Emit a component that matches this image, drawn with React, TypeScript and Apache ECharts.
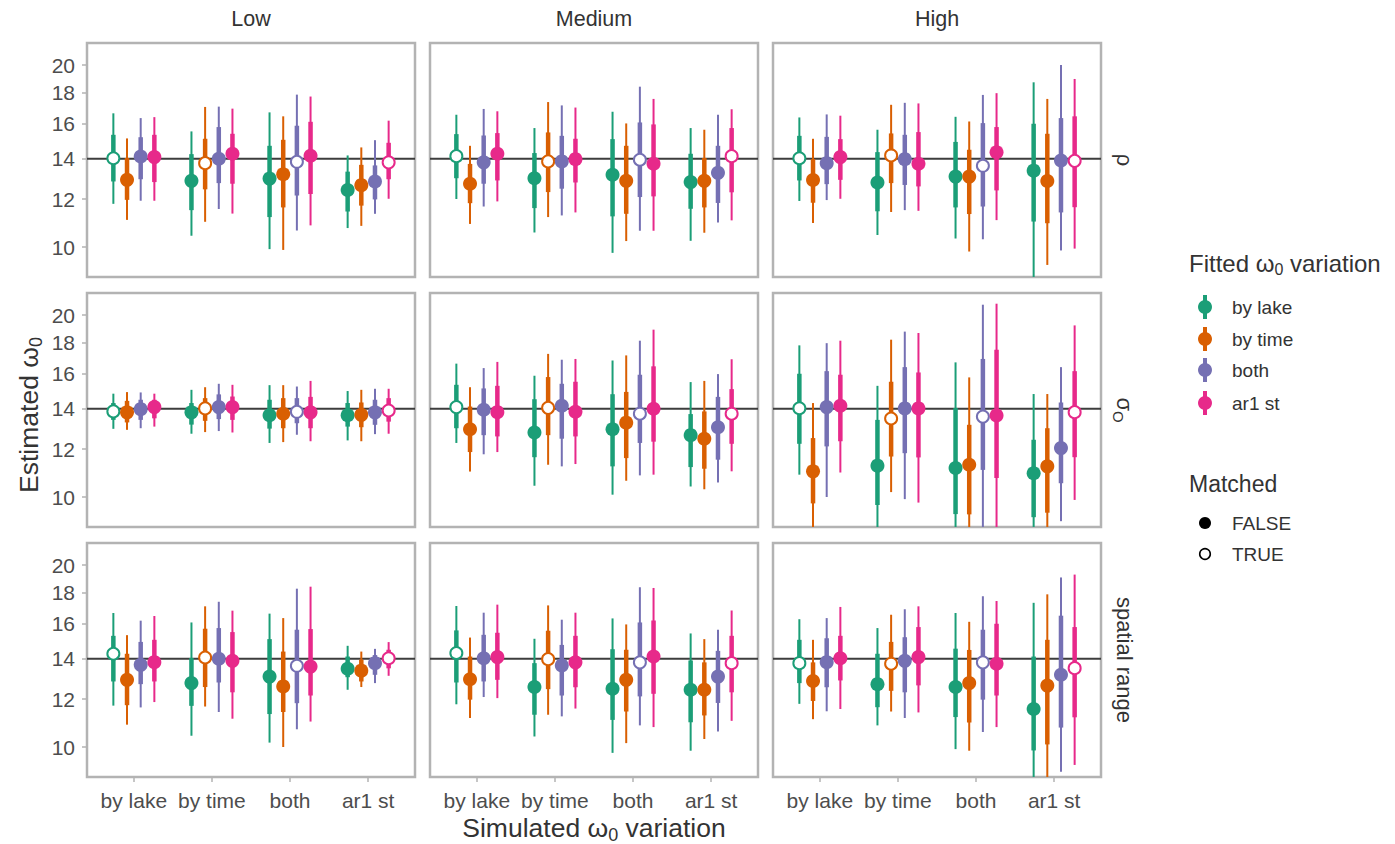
import React, { useEffect, useRef } from 'react';
import * as echarts from 'echarts';

// ---------- data ----------
const simulated = ['by lake', 'by time', 'both', 'ar1 st'];
const fitted = ['by lake', 'by time', 'both', 'ar1 st'];
const variationLevels = ['Low', 'Medium', 'High'];
const parameterLabels = ['{a|ρ}', '{a|σ}{s|O}', '{a|spatial range}'];
const fitColors = ['#1B9E77', '#D95F02', '#7570B3', '#E7298A'];
const yTicks = [10, 12, 14, 16, 18, 20];
const trueValue = 14;

// rows ordered: simulated (by lake, by time, both, ar1 st) x fitted (by lake, by time, both, ar1 st)
// columns: [estimate, lo95, lo66, hi66, hi95]
const rhoLow = [
  [14.03, 11.79, 12.84, 15.34, 16.65], [12.92, 11.09, 11.97, 14.04, 15.13], [14.12, 11.93, 12.95, 15.2, 16.35], [14.09, 11.93, 12.81, 15.34, 16.41],
  [12.87, 10.44, 11.51, 14.25, 15.54], [13.77, 11.01, 12.46, 15.11, 17.06], [14.0, 11.56, 12.76, 15.8, 17.08], [14.27, 11.36, 12.73, 15.4, 16.95],
  [12.98, 9.92, 11.21, 14.71, 16.71], [13.2, 9.89, 11.63, 15.05, 16.46], [13.84, 10.65, 12.17, 15.88, 17.88], [14.16, 10.86, 12.24, 16.12, 17.75],
  [12.43, 10.75, 11.45, 13.33, 14.18], [12.66, 10.84, 11.71, 13.68, 14.62], [12.84, 11.35, 11.99, 13.65, 15.03], [13.81, 12.02, 12.95, 14.88, 16.19],
];
const rhoMedium = [
  [14.14, 12.01, 13.0, 15.38, 16.56], [12.73, 10.92, 11.82, 13.73, 14.71], [13.81, 11.67, 12.73, 15.3, 16.93], [14.27, 11.9, 12.89, 15.44, 16.78],
  [13.0, 10.57, 11.6, 14.31, 15.74], [13.86, 11.21, 12.33, 15.48, 17.38], [13.86, 11.28, 12.49, 15.28, 17.16], [13.98, 11.41, 12.79, 15.11, 17.02],
  [13.17, 9.78, 11.24, 15.09, 16.75], [12.87, 10.23, 11.35, 14.71, 16.02], [13.95, 10.64, 12.1, 16.08, 18.43], [13.74, 10.64, 12.13, 15.96, 17.59],
  [12.81, 10.24, 11.57, 14.27, 15.74], [12.87, 10.56, 11.63, 14.04, 15.64], [13.27, 10.98, 11.83, 14.71, 16.56], [14.14, 11.07, 12.32, 15.74, 16.91],
];
const rhoHigh = [
  [14.03, 11.92, 12.89, 15.28, 16.39], [12.91, 10.96, 11.84, 13.98, 15.11], [13.77, 11.96, 12.71, 15.22, 16.58], [14.09, 12.02, 12.92, 15.09, 16.5],
  [12.79, 10.47, 11.46, 14.36, 15.64], [14.18, 11.43, 12.76, 15.42, 17.2], [13.98, 11.51, 12.67, 15.34, 17.33], [13.74, 11.48, 12.6, 15.5, 17.29],
  [13.08, 10.33, 11.63, 14.93, 16.43], [13.08, 9.83, 11.34, 14.49, 16.14], [13.63, 10.3, 11.67, 16.04, 17.86], [14.35, 11.08, 12.41, 15.8, 17.98],
  [13.38, 8.6, 11.02, 16.0, 18.74], [12.86, 9.34, 10.95, 15.4, 17.59], [13.91, 9.87, 11.41, 16.35, 20.02], [13.89, 9.94, 11.64, 16.46, 18.98],
];
const sigmaLow = [
  [13.86, 12.97, 13.42, 14.31, 14.83], [13.81, 12.92, 13.29, 14.43, 14.92], [13.98, 13.0, 13.42, 14.49, 14.9], [14.09, 13.08, 13.5, 14.49, 14.83],
  [13.81, 12.73, 13.18, 14.31, 15.05], [14.02, 12.81, 13.37, 14.58, 15.2], [14.09, 12.86, 13.46, 14.79, 15.4], [14.09, 12.79, 13.42, 14.67, 15.34],
  [13.66, 12.29, 12.98, 14.49, 15.32], [13.74, 12.33, 13.0, 14.58, 15.32], [13.84, 12.68, 13.25, 14.58, 15.24], [13.81, 12.37, 13.0, 14.65, 15.57],
  [13.66, 12.41, 13.08, 14.31, 14.98], [13.68, 12.37, 13.05, 14.34, 15.05], [13.81, 12.71, 13.17, 14.49, 15.11], [13.91, 12.73, 13.33, 14.58, 15.11],
];
const sigmaMedium = [
  [14.09, 12.29, 13.0, 15.34, 16.63], [12.95, 11.02, 11.87, 14.12, 15.2], [13.95, 11.77, 12.66, 15.13, 16.35], [13.82, 11.87, 12.6, 15.28, 16.74],
  [12.79, 10.44, 11.64, 14.52, 15.88], [14.05, 11.31, 12.66, 15.8, 17.26], [14.16, 11.24, 12.49, 15.4, 16.88], [13.84, 11.34, 12.6, 15.52, 16.93],
  [12.95, 10.09, 11.24, 14.8, 16.83], [13.28, 10.64, 11.6, 14.93, 17.16], [13.74, 10.86, 12.29, 15.94, 18.15], [14.0, 10.89, 12.35, 16.46, 18.93],
  [12.66, 10.41, 11.21, 13.72, 15.5], [12.49, 10.3, 11.14, 13.86, 15.57], [13.05, 10.57, 11.53, 14.65, 15.98], [13.74, 11.03, 12.25, 15.09, 16.91],
];
const sigmaHigh = [
  [14.03, 10.89, 12.25, 16.0, 17.83], [11.03, 8.5, 9.76, 12.52, 14.31], [14.09, 10.0, 12.13, 16.16, 17.98], [14.16, 10.98, 12.37, 15.94, 18.15],
  [11.27, 8.5, 9.7, 13.42, 15.28], [13.49, 10.19, 11.67, 15.52, 18.22], [14.02, 9.92, 11.82, 16.41, 18.79], [14.02, 9.79, 11.63, 16.08, 18.69],
  [11.17, 8.5, 9.37, 14.04, 16.71], [11.31, 8.5, 9.36, 13.17, 15.78], [13.59, 8.5, 11.09, 16.93, 20.82], [13.65, 8.5, 10.75, 17.54, 20.9],
  [10.95, 8.5, 9.26, 12.44, 14.81], [11.24, 8.5, 9.42, 13.0, 14.81], [12.05, 9.12, 10.54, 14.34, 16.41], [13.82, 9.89, 11.64, 16.16, 19.24],
];
const rangeLow = [
  [14.27, 11.71, 12.84, 15.28, 16.67], [12.92, 10.89, 11.73, 14.27, 15.32], [13.68, 11.63, 12.71, 14.93, 16.19], [13.82, 11.87, 12.84, 15.05, 16.48],
  [12.76, 10.44, 11.7, 14.04, 16.08], [14.07, 11.67, 12.57, 15.7, 17.1], [14.0, 11.43, 12.79, 15.74, 17.4], [13.89, 11.14, 12.32, 15.5, 16.82],
  [13.08, 10.17, 11.34, 15.09, 16.63], [12.6, 10.0, 11.43, 14.39, 16.35], [13.63, 10.7, 11.82, 15.64, 18.29], [13.59, 11.02, 12.17, 15.68, 18.43],
  [13.48, 12.44, 13.05, 14.12, 14.71], [13.38, 12.57, 12.84, 13.95, 14.39], [13.77, 12.76, 13.17, 14.2, 14.54], [14.03, 13.12, 13.5, 14.49, 14.92],
];
const rangeMedium = [
  [14.31, 11.77, 12.79, 15.6, 17.12], [12.95, 11.17, 11.98, 14.12, 15.18], [14.03, 12.1, 12.84, 15.34, 16.69], [14.09, 12.05, 12.92, 15.46, 17.21],
  [12.57, 10.41, 11.31, 13.77, 15.11], [13.98, 11.31, 12.47, 15.58, 17.16], [13.65, 11.24, 12.17, 14.76, 16.25], [13.81, 11.58, 12.56, 15.28, 16.69],
  [12.49, 9.78, 11.09, 14.52, 16.33], [12.92, 10.15, 11.45, 14.49, 15.96], [13.81, 10.86, 12.13, 16.08, 18.39], [14.12, 10.79, 12.25, 16.2, 18.34],
  [12.44, 9.86, 10.99, 13.91, 15.42], [12.44, 10.31, 11.28, 13.81, 15.09], [13.08, 10.61, 11.83, 14.43, 15.64], [13.77, 11.05, 12.32, 15.28, 16.83],
];
const rangeHigh = [
  [13.77, 11.79, 12.76, 15.05, 16.28], [12.86, 11.12, 11.92, 13.81, 15.05], [13.82, 11.46, 12.56, 15.14, 16.35], [14.03, 11.56, 12.89, 15.28, 17.06],
  [12.71, 10.86, 11.64, 14.27, 15.74], [13.74, 11.45, 12.39, 14.93, 16.56], [13.89, 11.17, 12.32, 15.2, 16.91], [14.09, 11.41, 12.65, 15.8, 17.1],
  [12.57, 9.92, 11.21, 14.55, 16.67], [12.76, 9.86, 10.98, 14.48, 16.12], [13.81, 10.59, 11.98, 15.64, 17.77], [13.74, 10.79, 12.17, 16.0, 17.45],
  [11.56, 8.5, 9.87, 14.12, 17.33], [12.64, 8.5, 10.1, 15.05, 17.9], [13.17, 9.1, 10.77, 16.5, 19.09], [13.51, 9.34, 11.2, 15.8, 19.3],
];

const panelData = [
  [rhoLow, rhoMedium, rhoHigh],
  [sigmaLow, sigmaMedium, sigmaHigh],
  [rangeLow, rangeMedium, rangeHigh],
];

// ---------- layout ----------
const FONT = '"Liberation Sans", Arial, Helvetica, sans-serif';
const colLeft = [87, 430, 773];
const rowTop = [43, 293, 543];
const panelW = 328;
const panelH = 234;
const yMin = 8.92;
const yMax = 21.77;
const dodge = 0.175;

function buildOption() {
  const grid: any[] = [];
  const xAxis: any[] = [];
  const yAxis: any[] = [];
  const series: any[] = [];

  for (let r = 0; r < 3; r++) {
    for (let c = 0; c < 3; c++) {
      const gi = r * 3 + c;
      grid.push({
        left: colLeft[c], top: rowTop[r], width: panelW, height: panelH,
        show: true, borderColor: '#b3b3b3', borderWidth: 2.5, backgroundColor: '#ffffff',
      });
      xAxis.push({
        gridIndex: gi, type: 'value', min: 0.4, max: 4.6,
        axisLine: { show: false }, splitLine: { show: false },
        axisTick: { show: r === 2, customValues: [1, 2, 3, 4], length: 5, lineStyle: { color: '#b3b3b3', width: 1.5 } },
        axisLabel: {
          show: r === 2, customValues: [1, 2, 3, 4],
          formatter: (v: number) => simulated[Math.round(v) - 1] ?? '',
          fontSize: 21, color: '#4d4d4d', margin: 13, fontFamily: FONT,
        },
      });
      yAxis.push({
        gridIndex: gi, type: 'log', logBase: 10, min: yMin, max: yMax,
        axisLine: { show: false }, splitLine: { show: false }, minorTick: { show: false }, minorSplitLine: { show: false },
        axisTick: { show: c === 0, customValues: yTicks, length: 5, lineStyle: { color: '#b3b3b3', width: 1.5 } },
        axisLabel: {
          show: c === 0, customValues: yTicks,
          formatter: (v: number) => String(Math.round(v)),
          fontSize: 21, color: '#4d4d4d', margin: 12, fontFamily: FONT,
        },
      });

      series.push({
        type: 'line', xAxisIndex: gi, yAxisIndex: gi,
        data: [[0.4, trueValue], [4.6, trueValue]],
        symbol: 'none', showSymbol: false, silent: true, z: 1,
        lineStyle: { color: '#3d3d3d', width: 2 },
      });

      const rows = panelData[r][c];
      for (let f = 0; f < fitted.length; f++) {
        const color = fitColors[f];
        const data = simulated.map((_, s) => {
          const row = rows[s * 4 + f];
          return [s + 1 + (f - 1.5) * dodge, row[0], row[1], row[2], row[3], row[4], s === f ? 1 : 0];
        });
        series.push({
          type: 'custom', name: fitted[f], xAxisIndex: gi, yAxisIndex: gi, z: 2 + f,
          clip: true, silent: true,
          encode: { x: 0, y: 1 },
          data,
          renderItem: (params: any, api: any) => {
            const x = api.value(0);
            const est = api.coord([x, api.value(1)]);
            const lo95 = api.coord([x, api.value(2)]);
            const lo66 = api.coord([x, api.value(3)]);
            const hi66 = api.coord([x, api.value(4)]);
            const hi95 = api.coord([x, api.value(5)]);
            const matched = api.value(6) === 1;
            return {
              type: 'group',
              children: [
                { type: 'line', shape: { x1: lo95[0], y1: lo95[1], x2: hi95[0], y2: hi95[1] }, style: { stroke: color, lineWidth: 2 } },
                { type: 'line', shape: { x1: lo66[0], y1: lo66[1], x2: hi66[0], y2: hi66[1] }, style: { stroke: color, lineWidth: 4.5 } },
                matched
                  ? { type: 'circle', shape: { cx: est[0], cy: est[1], r: 6 }, style: { fill: '#ffffff', stroke: color, lineWidth: 2 } }
                  : { type: 'circle', shape: { cx: est[0], cy: est[1], r: 7 }, style: { fill: color } },
              ],
            };
          },
        });
      }
    }
  }

  const graphic: any[] = [];
  // column strips
  variationLevels.forEach((lab, c) => {
    graphic.push({
      type: 'text', x: colLeft[c] + panelW / 2, y: 19,
      style: { text: lab, fontSize: 21.5, fontFamily: FONT, fill: '#333333', align: 'center', verticalAlign: 'middle', textAlign: 'center', textVerticalAlign: 'middle' },
    });
  });
  // row strips
  parameterLabels.forEach((lab, r) => {
    graphic.push({
      type: 'text', x: 1124, y: rowTop[r] + panelH / 2, rotation: -Math.PI / 2,
      style: {
        text: lab, fill: '#333333', align: 'center', verticalAlign: 'middle', textAlign: 'center', textVerticalAlign: 'middle',
        rich: {
          a: { fontSize: 22, fontFamily: FONT, fill: '#333333', lineHeight: 26 },
          s: { fontSize: 15, fontFamily: FONT, fill: '#333333', lineHeight: 15, verticalAlign: 'bottom' },
        },
      },
    });
  });
  // axis titles
  graphic.push({
    type: 'text', x: 29, y: 415, rotation: Math.PI / 2,
    style: {
      text: '{a|Estimated ω}{s|0}', align: 'center', verticalAlign: 'middle', textAlign: 'center', textVerticalAlign: 'middle',
      rich: {
        a: { fontSize: 26.5, fontFamily: FONT, fill: '#333333', lineHeight: 32 },
        s: { fontSize: 18, fontFamily: FONT, fill: '#333333', lineHeight: 18, verticalAlign: 'bottom' },
      },
    },
  });
  graphic.push({
    type: 'text', x: colLeft[1] + panelW / 2, y: 828,
    style: {
      text: '{a|Simulated ω}{s|0}{a| variation}', align: 'center', verticalAlign: 'middle', textAlign: 'center', textVerticalAlign: 'middle',
      rich: {
        a: { fontSize: 26.5, fontFamily: FONT, fill: '#333333', lineHeight: 32 },
        s: { fontSize: 18, fontFamily: FONT, fill: '#333333', lineHeight: 18, verticalAlign: 'bottom' },
      },
    },
  });
  // legend: fitted
  graphic.push({
    type: 'text', x: 1189, y: 263,
    style: {
      text: '{a|Fitted ω}{s|0}{a| variation}', align: 'left', verticalAlign: 'middle', textAlign: 'left', textVerticalAlign: 'middle',
      rich: {
        a: { fontSize: 24, fontFamily: FONT, fill: '#333333', lineHeight: 29 },
        s: { fontSize: 16, fontFamily: FONT, fill: '#333333', lineHeight: 16, verticalAlign: 'bottom' },
      },
    },
  });
  const legendY = [307, 339, 370, 403];
  fitted.forEach((lab, i) => {
    const y = legendY[i];
    graphic.push({ type: 'line', shape: { x1: 1205, y1: y - 12, x2: 1205, y2: y + 12 }, style: { stroke: fitColors[i], lineWidth: 4 } });
    graphic.push({ type: 'circle', shape: { cx: 1205, cy: y, r: 7 }, style: { fill: fitColors[i] } });
    graphic.push({
      type: 'text', x: 1232, y,
      style: { text: lab, fontSize: 19, fontFamily: FONT, fill: '#333333', align: 'left', verticalAlign: 'middle', textAlign: 'left', textVerticalAlign: 'middle' },
    });
  });
  // legend: matched
  graphic.push({
    type: 'text', x: 1189, y: 484,
    style: { text: 'Matched', fontSize: 23, fontFamily: FONT, fill: '#333333', align: 'left', verticalAlign: 'middle', textAlign: 'left', textVerticalAlign: 'middle' },
  });
  const matchedLabels = ['FALSE', 'TRUE'];
  const matchedY = [523, 554];
  matchedLabels.forEach((lab, i) => {
    const y = matchedY[i];
    graphic.push(
      i === 0
        ? { type: 'circle', shape: { cx: 1205, cy: y, r: 6 }, style: { fill: '#000000' } }
        : { type: 'circle', shape: { cx: 1205, cy: y, r: 5.3 }, style: { fill: '#ffffff', stroke: '#000000', lineWidth: 1.6 } }
    );
    graphic.push({
      type: 'text', x: 1232, y,
      style: { text: lab, fontSize: 19, fontFamily: FONT, fill: '#333333', align: 'left', verticalAlign: 'middle', textAlign: 'left', textVerticalAlign: 'middle' },
    });
  });

  return {
    animation: false,
    backgroundColor: '#ffffff',
    textStyle: { fontFamily: FONT },
    grid, xAxis, yAxis, series, graphic,
  };
}

export default function App() {
  const ref = useRef<HTMLDivElement>(null);
  useEffect(() => {
    if (!ref.current) return;
    const chart = echarts.init(ref.current, undefined, { renderer: 'svg' });
    chart.setOption(buildOption() as any);
    return () => chart.dispose();
  }, []);
  return <div ref={ref} style={{ position: 'fixed', left: 0, top: 0, width: 1395, height: 844, background: '#fff' }} />;
}
